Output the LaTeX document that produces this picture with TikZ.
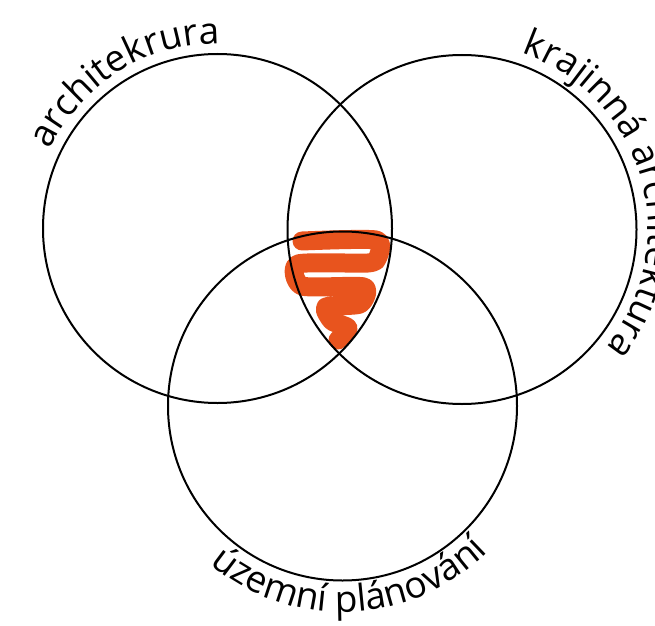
\documentclass[tikz,border=0pt]{standalone}
\usepackage{fontspec}
\setmainfont{Open Sans}
\usetikzlibrary{decorations.text}
\definecolor{scrib}{HTML}{E8541E}
\newcommand\arcfont{\fontsize{37pt}{37pt}\selectfont}
\begin{document}
\begin{tikzpicture}[x=1pt,y=1pt,
  ring/.style={circle, draw=black, line width=2pt, minimum size=349pt, inner sep=0pt},
  curvetext/.style={decorate, decoration={text along path, text format delimiters={|}{|}, text align=center, text={|\arcfont|#1}}},
  scribble/.style={draw=scrib, line width=19pt, line cap=round, line join=round}]
\useasboundingbox (0,0) rectangle (655,625);
% scribble
\draw[scribble] plot[smooth, tension=0.4] coordinates {(302,384) (376,385) (378,368) (368,362) (298,361) (302,339) (364,338) (360,321) (326,318) (332,304) (348,297) (338,285)};
% circles
\node[ring] (L) at (217.5,396.5) {};
\node[ring] (R) at (462,395.5) {};
\node[ring] (B) at (342.5,219) {};
% texts
\path[curvetext={architekrura}] (L.center) ++(160:185) arc[start angle=160, end angle=84, radius=185];
\path[curvetext={krajinná architektura}] (R.center) ++(85:186) arc[start angle=85, end angle=-53, radius=186];
\path[curvetext={územní plánování}] (B.center) ++(220:206) arc[start angle=220, end angle=325, radius=206];
\end{tikzpicture}
\end{document}
